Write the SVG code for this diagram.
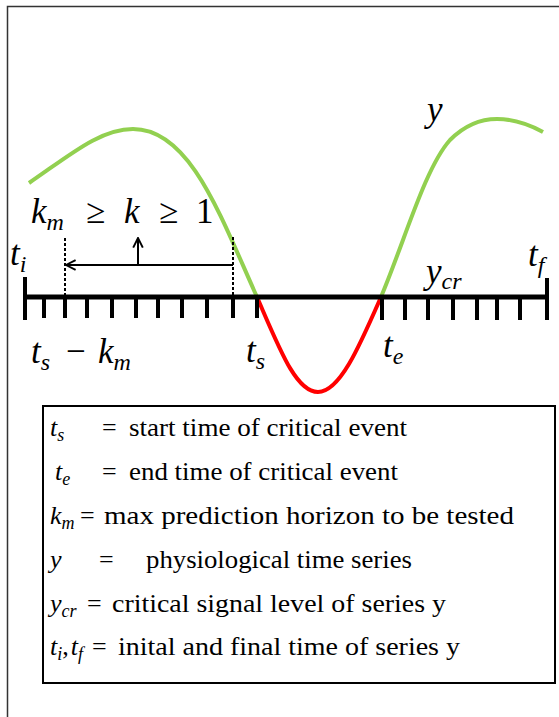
<svg xmlns="http://www.w3.org/2000/svg" width="559" height="717" viewBox="0 0 559 717">
<style>
.m{font-family:"Liberation Serif","DejaVu Serif",serif;font-style:italic;fill:#000}
.r{font-family:"Liberation Serif","DejaVu Serif",serif;fill:#000}
.big{font-size:35px}
.sub{font-size:24px}
.leg{font-size:26px}
.ls{font-size:18px}
.tick{stroke:#000;stroke-width:4}
.dot{stroke:#000;stroke-width:2;stroke-dasharray:3 2}
</style>
<defs>
<marker id="ah" viewBox="0 0 10 10" refX="9" refY="5" markerWidth="12" markerHeight="12" markerUnits="userSpaceOnUse" orient="auto">
<path d="M1,1 L9,5 L1,9" fill="none" stroke="#000" stroke-width="1.6"/>
</marker>
</defs>
<rect x="7.5" y="6.5" width="600" height="800" fill="#fff" stroke="#333" stroke-width="1.5"/>

<g id="curve">
<path d="M29,183 C70,155 100,129 133,129 C190,129 220,215 257,297" fill="none" stroke="#92D050" stroke-width="4"/>
<path d="M381,297 C405,240 425,168 450,140 C468,122 484,119 497,119 C515,119 530,125 543,132" fill="none" stroke="#92D050" stroke-width="4"/>
<path d="M257,297 C280,350 296,392 318,392 C340,392 360,345 381,297" fill="none" stroke="#FF0000" stroke-width="4"/>
</g>

<g id="axis">
<line x1="25" y1="297" x2="547" y2="297" stroke="#000" stroke-width="5"/>
<line class="tick" x1="25" y1="277" x2="25" y2="320"/>
<line class="tick" x1="547" y1="278" x2="547" y2="320"/>
<line class="tick" x1="44" y1="297" x2="44" y2="318"/>
<line class="tick" x1="65" y1="297" x2="65" y2="318"/>
<line class="tick" x1="87" y1="297" x2="87" y2="318"/>
<line class="tick" x1="112" y1="297" x2="112" y2="318"/>
<line class="tick" x1="136" y1="297" x2="136" y2="318"/>
<line class="tick" x1="158" y1="297" x2="158" y2="318"/>
<line class="tick" x1="182" y1="297" x2="182" y2="318"/>
<line class="tick" x1="207" y1="297" x2="207" y2="318"/>
<line class="tick" x1="233" y1="297" x2="233" y2="318"/>
<line class="tick" x1="257" y1="297" x2="257" y2="318"/>
<line class="tick" x1="382" y1="297" x2="382" y2="320"/>
<line class="tick" x1="405" y1="297" x2="405" y2="320"/>
<line class="tick" x1="428" y1="297" x2="428" y2="320"/>
<line class="tick" x1="453" y1="297" x2="453" y2="320"/>
<line class="tick" x1="477" y1="297" x2="477" y2="320"/>
<line class="tick" x1="497" y1="297" x2="497" y2="320"/>
<line class="tick" x1="520" y1="297" x2="520" y2="320"/>
</g>

<g id="connectors">
<line class="dot" x1="65" y1="238" x2="65" y2="296"/>
<line class="dot" x1="233" y1="237" x2="233" y2="296"/>
<line x1="233" y1="265" x2="66" y2="265" stroke="#000" stroke-width="2" marker-end="url(#ah)"/>
<line x1="138" y1="265" x2="138" y2="238" stroke="#000" stroke-width="2" marker-end="url(#ah)"/>
</g>

<g id="labels">
<text class="m big" x="427" y="121">y</text>
<text class="m big" x="31" y="223">k<tspan class="sub" dy="7">m</tspan></text>
<text class="r big" x="86" y="223" font-size="38">≥</text>
<text class="m big" x="124" y="223">k</text>
<text class="r big" x="159" y="223" font-size="38">≥</text>
<text class="r big" x="196" y="223">1</text>
<text class="m big" x="10" y="265">t<tspan class="sub" dy="7">i</tspan></text>
<text class="m big" x="528" y="266">t<tspan class="sub" dy="7">f</tspan></text>
<text class="m big" x="426" y="283">y<tspan class="sub" dy="6">cr</tspan></text>
<text class="m big" x="31" y="363">t<tspan class="sub" dy="7">s</tspan></text>
<text class="r big" x="66" y="363">−</text>
<text class="m big" x="98" y="363">k<tspan class="sub" dy="7">m</tspan></text>
<text class="m big" x="246" y="362">t<tspan class="sub" dy="7">s</tspan></text>
<text class="m big" x="383" y="357">t<tspan class="sub" dy="7">e</tspan></text>
</g>

<g id="legend">
<rect x="43" y="406" width="512" height="277" fill="none" stroke="#000" stroke-width="2"/>
<text class="m leg" x="50" y="436">t<tspan class="ls" dy="5">s</tspan></text>
<text class="r leg" x="102" y="436">=</text>
<text class="r leg" x="129" y="436" textLength="278" lengthAdjust="spacingAndGlyphs">start time of critical event</text>
<text class="m leg" x="55" y="480">t<tspan class="ls" dy="5">e</tspan></text>
<text class="r leg" x="102" y="480">=</text>
<text class="r leg" x="129" y="480" textLength="269" lengthAdjust="spacingAndGlyphs">end time of critical event</text>
<text class="m leg" x="50" y="524">k<tspan class="ls" dy="5">m</tspan></text>
<text class="r leg" x="80" y="524">=</text>
<text class="r leg" x="104" y="524" textLength="410" lengthAdjust="spacingAndGlyphs">max  prediction horizon to be tested</text>
<text class="m leg" x="50" y="568">y</text>
<text class="r leg" x="99" y="568">=</text>
<text class="r leg" x="146" y="568" textLength="266" lengthAdjust="spacingAndGlyphs">physiological time series</text>
<text class="m leg" x="50" y="612">y<tspan class="ls" dy="5">cr</tspan></text>
<text class="r leg" x="87" y="612">=</text>
<text class="r leg" x="112" y="612" textLength="334" lengthAdjust="spacingAndGlyphs">critical signal level of series y</text>
<text class="m leg" x="50" y="655">t<tspan class="ls" dy="5">i</tspan><tspan class="r" font-size="26" font-style="normal" dy="-5">,</tspan><tspan dx="2">t</tspan><tspan class="ls" dy="5">f</tspan></text>
<text class="r leg" x="92" y="655">=</text>
<text class="r leg" x="118" y="655" textLength="342" lengthAdjust="spacingAndGlyphs">inital and final time of series y</text>
</g>
</svg>
